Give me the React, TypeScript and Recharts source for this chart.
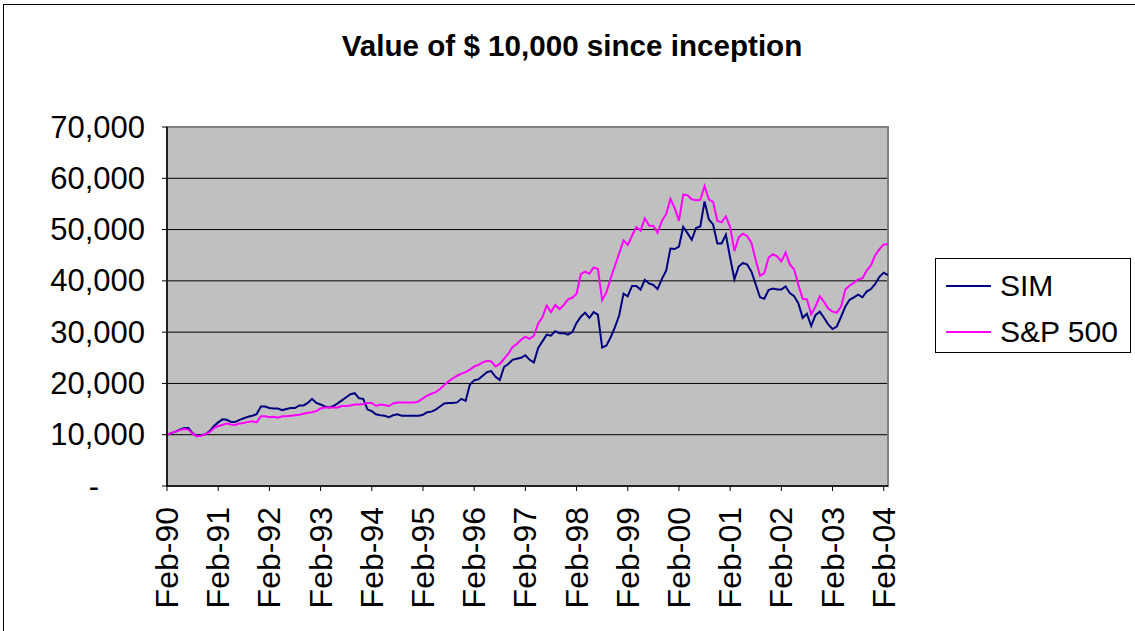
import React from 'react';
import { LineChart, Line, XAxis, YAxis, CartesianGrid, Legend, ReferenceArea } from 'recharts';

const MONTHS = ['Jan', 'Feb', 'Mar', 'Apr', 'May', 'Jun', 'Jul', 'Aug', 'Sep', 'Oct', 'Nov', 'Dec'];
const START_YEAR = 1990;
const START_MONTH = 1; // Feb
const N_POINTS = 170;

const simValues = [
  10000, 10300, 10600, 11000, 11300, 11300, 10300, 9700, 9900, 10100, 10700, 11700,
  12400, 13000, 12900, 12500, 12500, 12900, 13200, 13500, 13700, 14000, 15500, 15500,
  15200, 15100, 15100, 14800, 15000, 15200, 15200, 15700, 15700, 16200, 17000, 16200,
  15900, 15500, 15300, 15600, 16100, 16700, 17300, 17900, 18100, 17100, 17000, 14900,
  14600, 14000, 13800, 13700, 13400, 13800, 14000, 13700, 13700, 13700, 13700, 13700,
  13900, 14400, 14500, 14900, 15500, 16100, 16200, 16200, 16300, 17000, 16600, 19800,
  20600, 20800, 21500, 22200, 22400, 21300, 20650, 23200, 23800, 24600, 24800, 25000,
  25500, 24600, 24100, 26900, 28200, 29500, 29300, 30200, 29800, 29800, 29500, 30000,
  31800, 33000, 33800, 32800, 33900, 33400, 27000, 27400, 29000, 31000, 33300, 37500,
  37000, 39000, 39000, 38300, 40200, 39500, 39200, 38400, 40400, 42000, 46300, 46200,
  46700, 50500, 49300, 48000, 50300, 50600, 55500, 52000, 51000, 47300, 47300, 49000,
  44500, 40300, 42800, 43500, 43200, 41800, 39300, 36800, 36500, 38200, 38500, 38300,
  38300, 38900, 37600, 37000, 35600, 32800, 33600, 31200, 33300, 34000, 32800, 31500,
  30600, 31100, 33000, 35000, 36300, 36800, 37300, 36800, 37900, 38400, 39400, 40800, 41600, 41100,
];

const spValues = [
  10000, 10300, 10600, 10900, 11100, 11000, 10200, 9700, 9800, 10100, 10500, 11300,
  11700, 11900, 12200, 12000, 11900, 12200, 12300, 12500, 12600, 12400, 13600, 13600,
  13400, 13500, 13300, 13600, 13600, 13700, 13800, 13900, 14100, 14300, 14400, 14600,
  15100, 15300, 15300, 15300, 15300, 15600, 15600, 15700, 15900, 15900, 16000, 16200,
  16200, 15600, 15900, 15800, 15600, 16100, 16300, 16300, 16300, 16300, 16300, 16500,
  17100, 17600, 18000, 18300, 18900, 19700, 20400, 21000, 21500, 21900, 22200, 22700,
  23300, 23600, 24100, 24400, 24300, 23300, 23800, 24800, 25800, 27100, 27700, 28500,
  29100, 28700, 29300, 31700, 32900, 35200, 33900, 35300, 34500, 35300, 36400, 36700,
  37500, 41300, 41800, 41400, 42600, 42300, 36200, 37800, 40500, 43000, 45400, 47900,
  47000, 48800, 50500, 49800, 52200, 50800, 50700, 49400, 51700, 53000, 56000, 54200,
  51700, 56800, 56700, 55900, 55700, 55800, 58500, 55900, 55400, 51700, 51400, 52600,
  50500, 45800, 48500, 49200, 48700, 47400, 44000, 41000, 41500, 44500, 45200, 44800,
  43800, 45500, 43200, 42200, 39200, 36500, 36400, 33500, 35000, 37000, 35900, 34600,
  34000, 33800, 35000, 38300, 39100, 39600, 40300, 40500, 42000, 43000, 45000, 46200, 47100, 47150,
];

const yTicks = [0, 10000, 20000, 30000, 40000, 50000, 60000, 70000];
const seriesOrder = ['SIM', 'S&P 500'];

const categories: string[] = [];
for (let i = 0; i < N_POINTS; i++) {
  const m = (START_MONTH + i) % 12;
  const y = START_YEAR + Math.floor((START_MONTH + i) / 12);
  categories.push(`${MONTHS[m]}-${String(y % 100).padStart(2, '0')}`);
}

const data = categories.map((c, i) => ({ month: c, sim: simValues[i], sp: spValues[i] }));

const FONT = '"Liberation Sans", Arial, sans-serif';

const YTick = (props: any) => {
  const { x, y, payload } = props;
  const v = payload.value as number;
  if (v === 0) {
    return (
      <text x={x - 46} y={y} textAnchor="end" dominantBaseline="central" fontSize={31} fontFamily={FONT} fill="#000">-</text>
    );
  }
  return (
    <text x={x} y={y} textAnchor="end" dominantBaseline="central" fontSize={31} fontFamily={FONT} fill="#000">
      {v.toLocaleString('en-US')}
    </text>
  );
};

const XTick = (props: any) => {
  const { x, y, payload } = props;
  return (
    <text
      x={x}
      y={y}
      transform={`rotate(-90 ${x} ${y})`}
      textAnchor="end"
      dominantBaseline="central"
      fontSize={32}
      fontFamily={FONT}
      fill="#000"
    >
      {payload.value}
    </text>
  );
};

const LegendBox = (props: any) => {
  const payload = [...(props.payload || [])].sort(
    (a: any, b: any) => seriesOrder.indexOf(a.value) - seriesOrder.indexOf(b.value)
  );
  return (
    <div
      style={{
        width: 196,
        height: 95,
        boxSizing: 'border-box',
        border: '1px solid #000',
        background: '#fff',
        position: 'relative',
        fontFamily: FONT,
        fontSize: 30,
        color: '#000',
      }}
    >
      {payload.map((p: any, i: number) => (
        <div key={p.value} style={{ position: 'absolute', left: 0, top: 27 + i * 46 - 17, height: 34, width: 196 }}>
          <svg width={60} height={34} style={{ position: 'absolute', left: 0, top: 0 }}>
            <line x1={10} x2={55} y1={17} y2={17} stroke={p.color} strokeWidth={2} />
          </svg>
          <span style={{ position: 'absolute', left: 64, top: 0, lineHeight: '34px', whiteSpace: 'nowrap' }}>{p.value}</span>
        </div>
      ))}
    </div>
  );
};

export default function App() {
  return (
    <div style={{ position: 'absolute', left: 0, top: 0, width: 1135, height: 631, background: '#fff', overflow: 'hidden' }}>
      <div
        style={{
          position: 'absolute',
          left: 3,
          top: 4,
          width: 1132,
          height: 627,
          borderTop: '1px solid #000',
          borderLeft: '1px solid #000',
          boxSizing: 'border-box',
        }}
      />
      <div
        style={{
          position: 'absolute',
          left: 0,
          width: 1144,
          top: 29,
          textAlign: 'center',
          fontFamily: FONT,
          fontWeight: 'bold',
          fontSize: 29.6,
          lineHeight: '34px',
          color: '#000',
        }}
      >
        Value of $ 10,000 since inception
      </div>
      <div style={{ position: 'absolute', left: 0, top: 0 }}>
        <LineChart width={1135} height={631} data={data} margin={{ top: 127, right: 247, left: 67, bottom: 5 }}>
          <CartesianGrid vertical={false} horizontal={true} stroke="#000" strokeWidth={1} fill="#C0C0C0" fillOpacity={1} />
          <ReferenceArea
            x1={categories[0]}
            x2={categories[N_POINTS - 1]}
            y1={0}
            y2={70000}
            fill="none"
            stroke="#808080"
            strokeWidth={2}
            ifOverflow="visible"
          />
          <XAxis
            dataKey="month"
            interval={11}
            height={140}
            tickSize={5}
            tickMargin={16}
            tick={<XTick />}
            axisLine={{ stroke: '#000', strokeWidth: 1.5 }}
            tickLine={{ stroke: '#000' }}
          />
          <YAxis
            domain={[0, 70000]}
            ticks={yTicks}
            width={100}
            tickSize={5}
            tickMargin={17}
            tick={<YTick />}
            axisLine={{ stroke: '#000', strokeWidth: 1.5 }}
            tickLine={{ stroke: '#000' }}
            allowDataOverflow
          />
          <Line type="linear" dataKey="sim" name="SIM" stroke="#000080" strokeWidth={2} dot={false} isAnimationActive={false} legendType="plainline" />
          <Line type="linear" dataKey="sp" name="S&P 500" stroke="#FF00FF" strokeWidth={2} dot={false} isAnimationActive={false} legendType="plainline" />
          <Legend
            layout="vertical"
            align="center"
            verticalAlign="middle"
            content={<LegendBox />}
            wrapperStyle={{ position: 'absolute', left: 935, top: 258, width: 196, height: 95 }}
          />
        </LineChart>
      </div>
    </div>
  );
}
